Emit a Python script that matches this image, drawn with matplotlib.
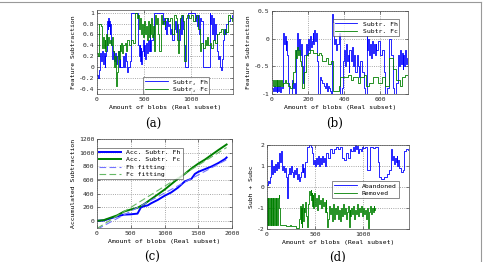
import matplotlib
matplotlib.use("Agg")
import matplotlib.pyplot as plt
import numpy as np
from matplotlib.lines import Line2D

plt.rcParams['axes.unicode_minus'] = False
plt.rcParams['font.family'] = ['DejaVu Sans Mono']

# ---------------- data ----------------
# (a) Feature subtraction, full subset
a_fh_x = [0,10,20,30,40,50,60,70,80,90,100,110,115,120,125,130,135,140,150,160,170,180,190,200,210,220,230,240,250,280,290,300,310,320,330,350,
          360,440,450,455,460,465,470,480,490,500,505,510,520,530,540,550,560,570,580,600,610,700,710,720,730,740,750,760,770,780,790,800,
          820,830,840,850,860,880,890,900,910,920,930,940,965,1040,1050,1060,1070,1080,1090,1100,1110,1125,1200,1210,1220,1230,1240,1250,1260,
          1270,1280,1290,1300,1310,1320,1330,1340,1350,1360,1380,1400,1420,1440]
a_fh_y = [-0.15,-0.2,-0.05,0.25,0.1,0.3,0.05,0.25,0.0,0.2,0.3,0.85,0.7,0.9,0.75,0.85,0.6,0.8,0.4,0.15,0.3,0.1,0.25,0.05,0.2,0.3,0.0,0.15,0.0,0.2,0.0,0.25,0.1,-0.1,0.0,0.1,
          1.0,0.4,0.2,0.4,0.1,0.35,0.05,0.3,0.5,0.2,0.4,0.15,0.45,0.25,0.5,0.3,0.6,0.3,0.5,0.6,1.0,0.8,0.9,0.7,0.85,0.6,0.9,0.75,0.8,0.6,0.7,0.5,
          0.7,0.85,0.65,0.8,0.5,0.7,0.9,0.6,0.95,0.7,0.4,0.0,1.0,0.95,0.85,0.95,0.75,0.95,0.6,0.9,0.85,0.0,1.0,0.8,0.95,0.6,0.9,0.5,0.8,
          0.6,0.3,0.15,0.2,0.0,-0.05,0.15,0.5,0.7,0.6,0.8,0.85,0.9,0.95]
a_fc_x = [0,10,20,25,40,50,60,70,80,90,100,110,120,130,140,150,160,170,180,190,200,210,220,230,240,250,260,270,280,300,310,320,340,360,380,
          400,410,430,440,450,460,470,480,490,500,510,520,530,540,550,560,570,580,590,600,610,620,630,640,650,660,680,690,700,720,730,760,
          780,800,820,840,850,860,870,880,900,920,930,945,960,980,1000,1020,1040,1060,1080,1100,1110,1130,1150,1160,1170,1180,1200,1220,1240,
          1260,1280,1300,1320,1340,1360,1380,1400,1420,1440]
a_fc_y = [0.25,0.2,0.3,0.8,0.75,0.35,0.55,0.35,0.5,0.3,0.6,0.4,0.55,0.45,0.5,0.4,0.55,0.3,0.0,0.2,-0.35,-0.1,0.3,0.15,0.4,0.3,0.45,0.25,0.4,0.45,0.3,0.5,0.4,0.5,0.45,
          0.8,1.0,0.9,0.95,0.7,0.9,0.6,0.8,0.55,0.85,0.6,0.75,0.5,0.85,0.55,0.8,0.6,0.9,0.55,0.75,0.3,0.95,0.8,0.9,0.6,0.3,0.95,0.8,0.85,0.75,0.9,0.85,
          0.9,0.6,0.95,0.9,0.5,0.25,0.7,0.9,0.95,0.85,0.1,0.9,0.95,0.9,0.95,0.85,0.9,0.95,0.7,0.3,0.45,0.35,0.5,0.4,0.55,0.4,0.45,0.35,0.5,
          0.45,0.6,0.65,0.7,0.6,0.7,0.65,0.95,0.9,0.85]

# (b) Feature subtraction, real subset
b_fh_x = [0,5,10,15,20,25,30,35,40,45,50,55,60,65,70,75,80,85,90,95,110,115,120,125,135,140,145,150,155,160,165,170,175,180,190,195,200,205,
          210,215,220,225,230,235,240,245,250,255,265,270,280,290,295,300,305,310,315,320,330,335,340,345,350,355,360,370,375,380,390,395,
          400,405,410,415,420,425,430,440,445,450,455,460,470,480,485,490,500,510,515,525,530,535,540,545,550,555,560,565,570,575,580,590,
          600,610,620,630,640,650,660,670,680,690,700,705,710,715,720,725,730,735,740,745,750]
b_fh_y = [-0.9,-0.95,-0.85,-0.95,-0.88,-0.97,-0.86,-0.95,-0.85,-0.96,-0.88,-0.9,0.1,-0.1,0.05,-0.2,-0.05,-0.3,-0.8,-1.0,-0.75,-0.9,-0.8,-1.0,-0.2,0.1,-0.2,0.0,-0.3,-0.1,-0.5,-0.8,-0.6,-0.3,-0.1,-0.3,0.0,-0.2,
          0.05,-0.15,-0.05,0.1,-0.1,0.15,-0.05,0.1,-0.4,-1.0,-0.7,-0.75,-0.8,-0.85,-0.9,-0.8,-0.95,-0.85,-0.9,-0.95,-1.0,0.45,0.3,-0.1,0.0,-0.2,-0.1,0.1,-0.3,-1.0,-0.9,-0.4,
          -0.2,-0.5,-0.1,-0.4,-0.3,-0.6,-0.2,-0.4,-0.15,-0.5,-0.3,-0.6,-0.3,-0.5,-0.7,-0.4,-0.6,-0.9,-1.0,0.05,-0.2,0.0,-0.3,-0.1,-0.35,-0.05,-0.25,-0.1,-0.3,-0.1,-0.2,-0.05,
          -0.3,-0.2,-0.6,-1.0,-0.9,0.0,-0.3,-0.9,-1.0,-0.8,-0.3,-0.5,-0.2,-0.45,-0.25,-0.55,-0.3,-0.5,-0.2,-0.45,-0.35]
b_fc_x = [0,5,10,15,20,25,30,35,40,45,50,55,60,70,80,90,100,110,115,125,130,135,140,145,150,155,160,165,175,180,190,200,210,230,250,260,270,280,
          300,310,325,340,370,380,420,440,450,480,490,510,520,540,560,590,610,630,650,670,690,710,720,740,755]
b_fc_y = [-0.75,-0.85,-0.75,-0.85,-0.75,-0.85,-0.75,-0.85,-0.75,-0.85,-0.75,-0.85,-0.8,-0.75,-0.8,-0.85,-0.9,-0.8,-0.6,-0.3,-0.2,-0.35,-0.15,-0.3,-0.2,-0.4,-0.5,-0.9,-0.8,-0.6,-0.3,-0.25,-0.2,-0.25,-0.3,-0.25,-0.3,-0.4,
          -0.35,-0.45,-0.4,-0.95,-0.85,-0.7,-0.65,-0.75,-0.7,-0.8,-0.7,-0.65,-0.85,-0.8,-0.7,-0.8,-0.7,-0.85,-0.35,-0.55,-0.75,-0.85,-0.7,-0.65,-0.65]

# (c) Accumulated subtraction
c_fh_x = [0,100,200,300,400,500,550,600,650,700,750,800,900,1000,1100,1200,1300,1400,1450,1500,1600,1700,1800,1900,1920]
c_fh_y = [5,10,40,70,95,100,105,110,200,220,230,260,310,370,420,490,580,620,690,720,760,800,850,910,930]
c_fc_x = [0,100,200,300,400,500,600,700,800,900,1000,1100,1200,1300,1400,1500,1600,1700,1800,1920]
c_fc_y = [5,15,50,85,140,170,195,250,320,390,460,540,620,690,770,840,900,970,1040,1120]

# (d) Subh + Subc
d_ab_x = [0,10,20,30,40,50,60,70,80,90,100,110,120,130,140,150,160,170,180,190,200,210,220,230,240,250,260,270,280,290,300,310,320,330,340,350,
          360,370,380,390,400,420,440,460,470,480,490,500,510,520,530,540,550,560,570,580,590,600,620,640,660,680,700,720,740,760,780,800,820,
          840,860,880,900,910,920,930,940,950,960,980,990,1000,1020,1040,1075,1100,1130,1160,1170,1190,1220,1250,1270,1290,1300,1310,1320,
          1330,1340,1350,1360,1370,1380,1400,1420,1430,1450,1465]
d_ab_y = [0.1,0.3,0.2,0.5,1.3,0.6,1.0,0.7,1.1,0.8,1.2,0.9,1.3,1.6,1.2,1.7,0.8,1.0,0.7,0.9,0.5,-0.5,0.6,0.9,0.6,1.0,0.7,0.5,0.8,0.6,0.9,0.4,0.6,0.3,0.5,0.7,
          1.1,0.7,0.9,0.5,1.2,1.9,2.0,1.9,1.6,1.1,1.3,1.0,1.4,1.1,1.5,1.0,1.4,1.1,1.5,1.2,1.4,1.0,1.6,1.4,1.8,1.6,1.8,1.9,1.8,1.9,1.4,1.3,1.6,
          1.4,1.8,1.7,1.9,1.7,2.0,1.8,1.95,1.6,1.8,1.7,1.9,1.85,1.9,0.8,1.9,1.85,1.9,1.2,0.5,0.4,0.5,0.6,0.8,1.8,1.3,1.5,1.1,
          1.4,1.2,1.5,1.0,1.3,0.9,0.7,0.8,1.7,1.8,1.75]
d_rm_x = [0,4,8,12,16,20,24,28,32,36,40,44,48,52,56,60,64,68,72,76,80,84,88,92,96,100,104,108,112,115,120,125,130,140,200,240,250,300,330,340,350,355,360,
          365,370,375,380,385,390,400,410,420,430,440,450,455,460,465,470,475,480,485,490,495,500,510,520,530,540,550,560,570,580,590,600,610,620,
          630,640,650,660,670,680,690,700,710,720,730,740,750,760,770,780,790,800,810,820,830,840,850,860,870,880,890,900,910,920,930,940,950,960,
          970,980,990,1000,1010,1020,1030,1040,1050,1060,1070,1080,1090,1100,1110,1120,1130]
d_rm_y = [-0.5,-1.8,-0.5,-1.8,-0.5,-1.8,-0.5,-1.8,-0.5,-1.8,-0.5,-1.8,-0.5,-1.8,-0.5,-1.8,-0.5,-1.8,-0.5,-1.8,-0.5,-1.8,-0.5,-1.8,-0.5,-1.8,-0.5,-1.8,-0.5,-0.5,-0.4,-0.9,-1.0,-1.8,-1.85,-1.8,-1.85,-1.95,-1.5,-0.9,-1.7,-1.0,-1.9,
          -0.8,-1.5,-0.9,-1.6,-1.0,-1.2,-0.7,-1.4,-1.9,-0.8,-0.2,-0.4,-0.15,-0.6,-0.3,-0.9,-0.4,-1.0,-0.5,-0.8,-0.3,-0.9,-0.5,-1.1,-0.4,-0.8,-0.6,-1.0,-0.5,-0.9,-0.7,-1.2,-0.6,-1.2,
          -1.9,-1.5,-0.9,-1.3,-1.0,-1.6,-0.8,-1.5,-1.0,-1.3,-0.9,-1.5,-1.1,-1.6,-1.0,-1.4,-0.8,-1.3,-1.0,-1.5,-1.2,-0.9,-1.9,-1.1,-1.4,-1.0,-1.3,-0.9,-1.5,-1.1,-1.3,-0.8,-1.4,-1.0,
          -1.2,-0.9,-1.4,-1.0,-1.3,-1.1,-1.5,-1.0,-1.95,-1.2,-0.9,-1.3,-1.0,-1.2,-0.9,-1.1,-1.0]

a_yticks = [-0.4,-0.2,0,0.2,0.4,0.6,0.8,1]
a_ylabels = ['-0.4','-0.2','0','0.2','0.4','0.6','0.8','1']
a_xticks = [0,500,1000]
b_yticks = [-1,-0.5,0,0.5]
b_ylabels = ['-1','-0.5','0','0.5']
b_xticks = [0,200,400,600]
c_yticks = [0,200,400,600,800,1000,1200]
c_xticks = [0,500,1000,1500,2000]
d_yticks = [-2,-1,0,1,2]
d_xticks = [0,500,1000]

BLUE = (0, 0, 1)
GREEN = (0, 0.5, 0)
FS = 4.6
W, H = 483, 262

fig = plt.figure(figsize=(W/100, H/100), dpi=100)

def rect(l, t, r, b):
    return [l/W, 1 - b/H, (r-l)/W, (b-t)/H]

def style(ax, xt, yt, ylabels=None):
    ax.set_xticks(xt)
    ax.set_yticks(yt)
    if ylabels is not None:
        ax.set_yticklabels(ylabels)
    ax.tick_params(direction='in', top=True, right=True, length=2, width=0.4,
                   labelsize=FS, pad=2, colors='0.15')
    ax.grid(True, linestyle=':', color='0.55', linewidth=0.6)
    for s in ax.spines.values():
        s.set_linewidth(0.5)
        s.set_color('0.3')
    ax.set_xlabel('Amount of blobs (Real subset)', fontsize=FS, labelpad=2)

def leg(ax, bbox):
    l = ax.legend(loc='lower left', bbox_to_anchor=bbox, fontsize=FS, frameon=True,
                  fancybox=False, handlelength=3.5, borderpad=0.3, labelspacing=0.3,
                  handletextpad=0.8, borderaxespad=0)
    l.get_frame().set_edgecolor('0.2')
    l.get_frame().set_linewidth(0.5)
    return l

# (a)
ax = fig.add_axes(rect(97, 10, 233, 94))
ax.plot(a_fh_x, a_fh_y, color=BLUE, lw=0.6, drawstyle='steps-post', label='Subtr, Fh')
ax.plot(a_fc_x, a_fc_y, color=GREEN, lw=0.6, drawstyle='steps-post', label='Subtr, Fc')
ax.set_xlim(0, 1450)
ax.set_ylim(-0.5, 1.05)
style(ax, a_xticks, a_yticks, a_ylabels)
ax.set_ylabel('Feature Subtraction', fontsize=FS, labelpad=2)
leg(ax, (0.34, 0.0))

# (b)
ax = fig.add_axes(rect(272, 11, 408, 94))
ax.plot(b_fh_x, b_fh_y, color=BLUE, lw=0.6, drawstyle='steps-post', label='Subtr. Fh')
ax.plot(b_fc_x, b_fc_y, color=GREEN, lw=0.6, drawstyle='steps-post', label='Subtr. Fc')
ax.set_xlim(0, 755)
ax.set_ylim(-1, 0.5)
style(ax, b_xticks, b_yticks, b_ylabels)
ax.set_ylabel('Feature Subtraction', fontsize=FS, labelpad=2)
leg(ax, (0.45, 0.7))

# (c)
ax = fig.add_axes(rect(97, 139, 232, 228))
ax.plot(c_fh_x, c_fh_y, color=BLUE, lw=1.4, label='Acc. Subtr. Fh')
ax.plot(c_fc_x, c_fc_y, color=GREEN, lw=1.4, label='Acc. Subtr. Fc')
ph = np.polyfit(c_fh_x, c_fh_y, 1)
pc = np.polyfit(c_fc_x, c_fc_y, 1)
xs = np.array([0, c_fh_x[-1]])
ax.plot(xs, np.polyval(ph, xs), color=(0.45, 0.45, 1), lw=0.8, ls=(0, (6, 3)), label='Fh fitting')
ax.plot(xs, np.polyval(pc, xs), color=(0.4, 0.72, 0.4), lw=0.8, ls=(0, (6, 3)), label='Fc fitting')
ax.set_xlim(0, 2000)
ax.set_ylim(-100, 1200)
style(ax, c_xticks, c_yticks)
ax.set_ylabel('Accumulated Subtraction', fontsize=FS, labelpad=2)
leg(ax, (0.0, 0.55))

# (d)
ax = fig.add_axes(rect(267, 145, 409, 229))
ax.plot(d_ab_x, d_ab_y, color=BLUE, lw=0.6, drawstyle='steps-post', label='Abandoned')
ax.plot(d_rm_x, d_rm_y, color=GREEN, lw=0.6, drawstyle='steps-post', label='Removed')
ax.set_xlim(0, 1480)
ax.set_ylim(-2, 2)
style(ax, d_xticks, d_yticks)
ax.set_ylabel('Subh + Subc', fontsize=FS, labelpad=2)
leg(ax, (0.46, 0.37))

# captions
for x, y, s in [(153, 124, '(a)'), (335, 123, '(b)'), (152, 257, '(c)'), (337, 257, '(d)')]:
    fig.text(x/W, 1 - y/H, s, fontsize=8.5, family='DejaVu Serif', ha='center', va='center')

# frame lines
fig.add_artist(Line2D([0, 481/W], [1 - 2/H, 1 - 2/H], color='0.6', lw=0.8))
fig.add_artist(Line2D([481/W, 481/W], [0, 1 - 2/H], color='0.6', lw=0.8))

fig.savefig('out.png', dpi=100)
